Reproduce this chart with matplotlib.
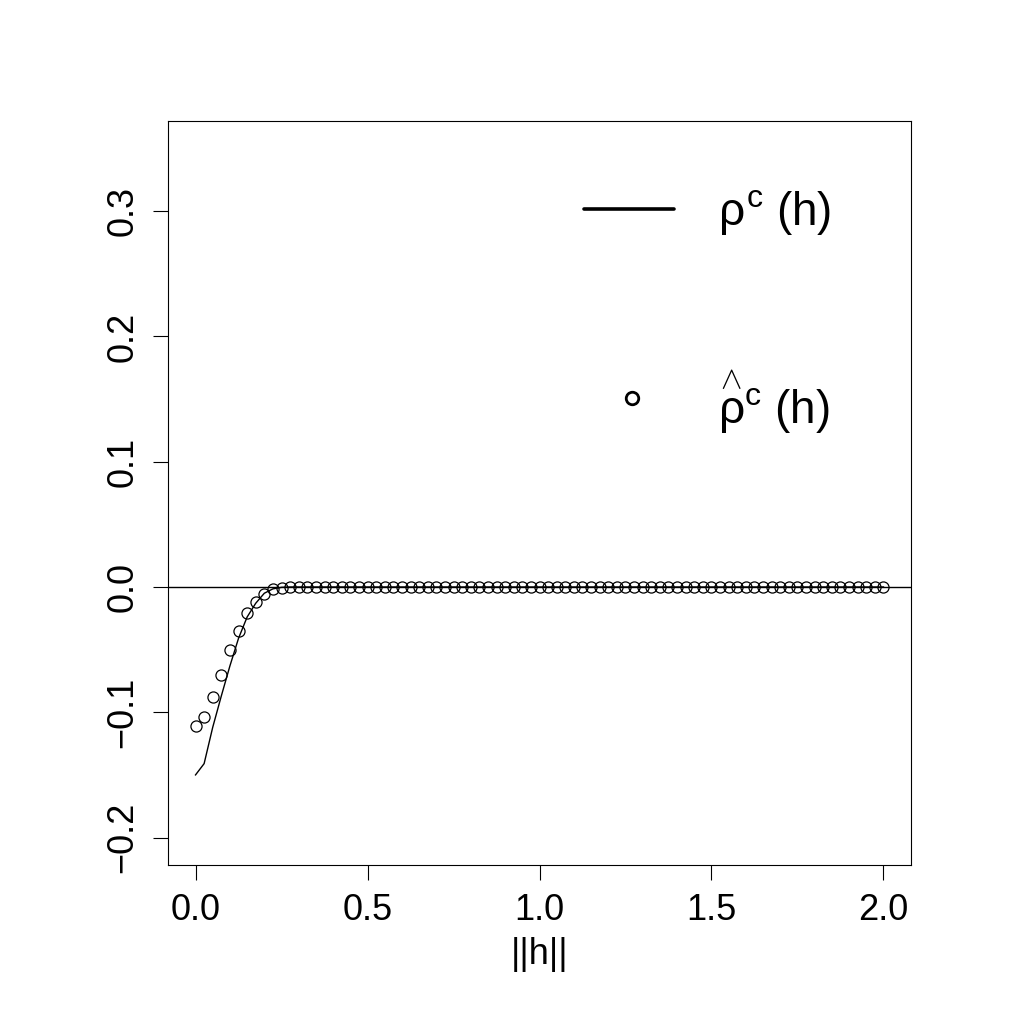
import matplotlib

matplotlib.use("Agg")
import matplotlib.pyplot as plt
import numpy as np

# lag grid and the two curves
lags = np.linspace(0.0, 2.0, 81)
rho_true = [-0.150, -0.141, -0.112, -0.087, -0.063, -0.041, -0.024, -0.013,
            -0.005, -0.0015, -0.0003] + [0.0] * 70
rho_hat = [-0.111, -0.104, -0.088, -0.070, -0.050, -0.035, -0.021, -0.012,
           -0.006, -0.002, -0.001] + [0.0] * 70
x_ticks = [0.0, 0.5, 1.0, 1.5, 2.0]
y_ticks = [-0.2, -0.1, 0.0, 0.1, 0.2, 0.3]

plt.rcParams["font.family"] = ["Liberation Sans", "DejaVu Sans"]
plt.rcParams["mathtext.fontset"] = "custom"
plt.rcParams["mathtext.rm"] = "Liberation Sans"
plt.rcParams["mathtext.it"] = "Liberation Sans"

fig = plt.figure(figsize=(10.19, 10.19), dpi=100)
ax = fig.add_axes([168 / 1019, 1 - 865 / 1019, (911 - 168) / 1019, (865 - 121) / 1019])

ax.plot(lags, rho_true, color="black", linewidth=1.0)
ax.plot(lags, rho_hat, linestyle="none", marker="o", markersize=8,
        markerfacecolor="none", markeredgecolor="black", markeredgewidth=0.9)
ax.axhline(0.0, color="black", linewidth=1.0)

ax.set_xlim(-0.08, 2.08)
ax.set_ylim(-0.2 - 0.0219, 0.35 + 0.0219)
ax.set_xticks(x_ticks)
ax.set_xticklabels([f"{v:.1f}".replace("-", "\u2212") for v in x_ticks])
ax.set_yticks(y_ticks)
ax.set_yticklabels([f"{v:.1f}".replace("-", "\u2212") for v in y_ticks],
                   rotation=90, va="center")
ax.tick_params(length=11, width=0.8, labelsize=26, pad=9)
for spine in ax.spines.values():
    spine.set_linewidth(0.8)
ax.set_xlabel("||h||", fontsize=26, labelpad=7)

# legend drawn by hand, as in the original
ax.plot([1.13, 1.39], [0.302, 0.302], color="black", linewidth=2.6,
        solid_capstyle="round")
ax.plot([1.27], [0.151], linestyle="none", marker="o", markersize=9,
        markerfacecolor="none", markeredgecolor="black", markeredgewidth=2.0)
ax.text(1.52, 0.299, r"$\rho^{c}\ (h)$", fontsize=33, va="center", ha="left")
ax.text(1.52, 0.147, r"$\overset{\wedge}{\rho}^{c}\ (h)$", fontsize=33,
        va="center", ha="left")

fig.savefig("out.png", dpi=100)
